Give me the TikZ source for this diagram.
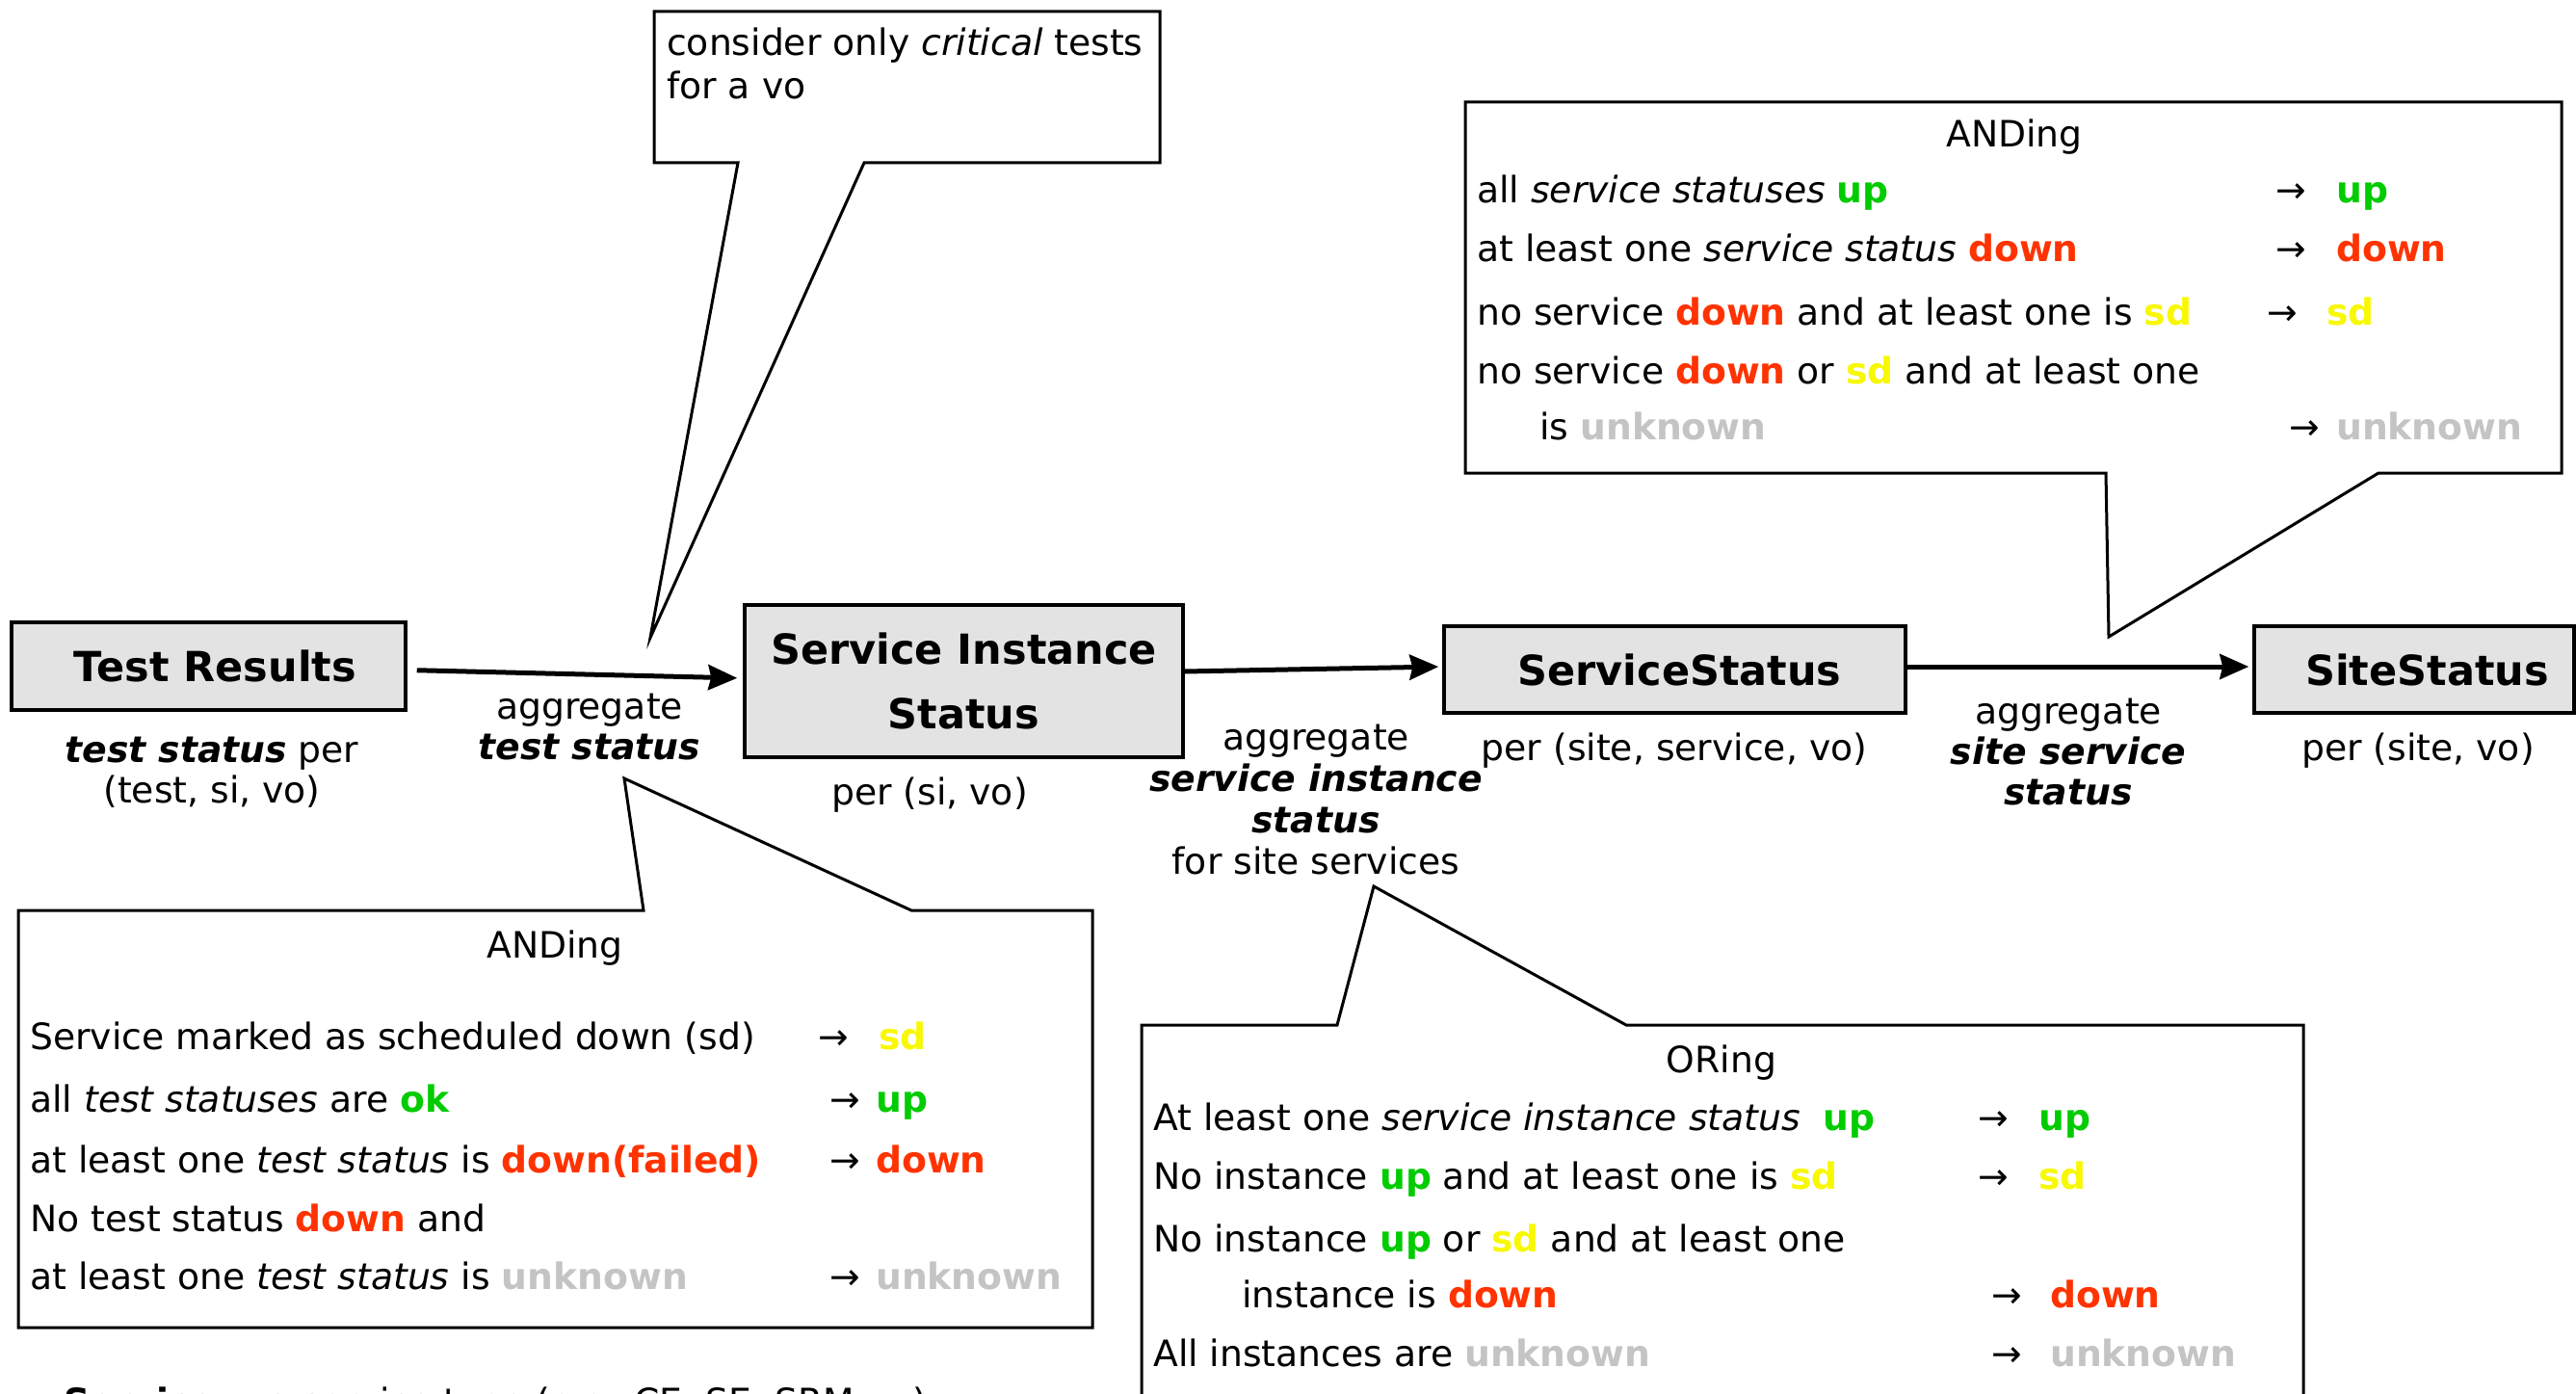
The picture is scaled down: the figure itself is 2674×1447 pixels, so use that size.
\documentclass[tikz,border=0pt]{standalone}
\usepackage{fontspec}
\setmainfont{DejaVu Sans}
\usetikzlibrary{arrows.meta}

\definecolor{stgreen}{HTML}{00CC00}
\definecolor{stred}{HTML}{FF3300}
\definecolor{styellow}{HTML}{F8F800}
\definecolor{stgrey}{HTML}{C4C4C4}
\definecolor{boxgray}{HTML}{E3E3E3}

\newcommand{\stUp}{\textcolor{stgreen}{\textbf{up}}}
\newcommand{\stOk}{\textcolor{stgreen}{\textbf{ok}}}
\newcommand{\stDown}{\textcolor{stred}{\textbf{down}}}
\newcommand{\stSd}{\textcolor{styellow}{\textbf{sd}}}
\newcommand{\stUnk}{\textcolor{stgrey}{\textbf{unknown}}}
\newcommand{\bi}[1]{\textbf{\textit{#1}}}

\tikzset{
  stage/.style={draw, line width=3.5pt, fill=boxgray, inner sep=0pt, align=center,
    font=\fontsize{43}{67}\selectfont\bfseries},
  flow/.style={line width=5pt, -{Stealth[length=30pt,width=26pt,inset=3pt]}},
  bubble/.style={draw, line width=3pt, line join=miter, fill=white},
  rowtxt/.style={anchor=west, inner sep=0pt, text height=28pt, text depth=8pt, yshift=-3pt},
  lbl/.style={align=center, inner sep=0pt},
}

\begin{document}
\begin{tikzpicture}[x=1pt, y=-1pt, font=\fontsize{37.7}{42}\selectfont]
\useasboundingbox (0,0) rectangle (2674,1447);

% ---------------- processing stages ----------------
\node[stage, minimum width=409pt, minimum height=91pt] (tr)   at (216.5,691.5) {\hspace*{14pt}\raisebox{-2pt}{Test Results}};
\node[stage, minimum width=455pt, minimum height=158pt] (sis) at (1000.5,707) {Service Instance\\Status};
\node[stage, minimum width=479pt, minimum height=90pt] (ss)   at (1738.5,695) {\hspace*{10pt}ServiceStatus};
\node[stage, minimum width=332pt, minimum height=90pt] (site) at (2506,695) {\hspace*{27pt}SiteStatus};

% ---------------- aggregation arrows ----------------
\draw[flow, shorten <=10pt, shorten >=6pt] ([yshift=-4pt]tr.east) -- ([yshift=3pt]sis.west);
\draw[flow, shorten >=4pt] ([yshift=10pt]sis.east) -- ([yshift=3pt]ss.west);
\draw[flow, shorten >=4pt] ([yshift=3pt]ss.east) -- ([yshift=3pt]site.west);

% ---------------- labels under the stages ----------------
\node[lbl] (trper) at (220,802) {\bi{test status} per\\(test, si, vo)};
\node[lbl] (agg1) at (612,755) {aggregate\\\bi{test status}};
\node[lbl] (sisper) at (965,825) {per (si, vo)};
\node[lbl, font=\fontsize{37.7}{43}\selectfont] (agg2) at (1366,830) {aggregate\\\bi{service instance}\\\bi{status}\\for site services};
\node[lbl] (ssper) at (1738,779) {per (site, service, vo)};
\node[lbl] (agg3) at (2147,781) {aggregate\\\bi{site service}\\\bi{status}};
\node[lbl] (siteper) at (2510,779) {per (site, vo)};

% ---------------- callout: critical tests ----------------
\coordinate (c1tip) at (675,662);
\draw[bubble] (766,169) -- (679,169) -- (679,12) -- (1204,12) -- (1204,169) -- (897,169) -- (c1tip) -- cycle;
\node[anchor=north west, align=left, inner sep=0pt, font=\fontsize{37.7}{45}\selectfont] (crit) at (692,29)
  {consider only \textit{critical} tests\\for a vo};

% ---------------- callout: ANDing of service statuses ----------------
\coordinate (c2tip) at (2189,661);
\draw[bubble] (2186,491) -- (1521,491) -- (1521,106) -- (2659,106) -- (2659,491) -- (2469,491) -- (c2tip) -- cycle;
\node[rowtxt, anchor=center] (and2) at (2091,140) {ANDing};
\node[rowtxt] (a2r1) at (1533,198) {all \textit{service statuses} \stUp};
\node[rowtxt] (a2r1a) at (2362,198) {→};
\node[rowtxt] (a2r1b) at (2425,198) {\stUp};
\node[rowtxt] (a2r2) at (1533,259) {at least one \textit{service status} \stDown};
\node[rowtxt] (a2r2a) at (2362,259) {→};
\node[rowtxt] (a2r2b) at (2425,259) {\stDown};
\node[rowtxt] (a2r3) at (1533,324) {no service \stDown{} and at least one is \stSd};
\node[rowtxt] (a2r3a) at (2353,324) {→};
\node[rowtxt] (a2r3b) at (2415,324) {\stSd};
\node[rowtxt] (a2r4) at (1533,385) {no service \stDown{} or \stSd{} and at least one};
\node[rowtxt] (a2r5) at (1598,443) {is \stUnk};
\node[rowtxt] (a2r5a) at (2376,443) {→};
\node[rowtxt] (a2r5b) at (2425,443) {\stUnk};

% ---------------- callout: ANDing of test statuses ----------------
\coordinate (c3tip) at (648,808);
\draw[bubble] (668,945) -- (19,945) -- (19,1378) -- (1134,1378) -- (1134,945) -- (946,945) -- (c3tip) -- cycle;
\node[rowtxt, anchor=center] (and1) at (576,981) {ANDing};
\node[rowtxt] (a1r1) at (31,1076) {Service marked as scheduled down (sd)};
\node[rowtxt] (a1r1a) at (849,1076) {→};
\node[rowtxt] (a1r1b) at (912,1076) {\stSd};
\node[rowtxt] (a1r2) at (31,1141) {all \textit{test statuses} are \stOk};
\node[rowtxt] (a1r2a) at (861,1141) {→};
\node[rowtxt] (a1r2b) at (909,1141) {\stUp};
\node[rowtxt] (a1r3) at (31,1204) {at least one \textit{test status} is \textcolor{stred}{\textbf{down(failed)}}};
\node[rowtxt] (a1r3a) at (861,1204) {→};
\node[rowtxt] (a1r3b) at (909,1204) {\stDown};
\node[rowtxt] (a1r4) at (31,1265) {No test status \stDown{} and};
\node[rowtxt] (a1r5) at (31,1325) {at least one \textit{test status} is \stUnk};
\node[rowtxt] (a1r5a) at (861,1325) {→};
\node[rowtxt] (a1r5b) at (909,1325) {\stUnk};

% ---------------- callout: ORing of service instances ----------------
\coordinate (c4tip) at (1426,920);
\draw[bubble] (1388,1064) -- (1185,1064) -- (1185,1520) -- (2391,1520) -- (2391,1064) -- (1688,1064) -- (c4tip) -- cycle;
\node[rowtxt, anchor=center] (or1) at (1787,1100) {ORing};
\node[rowtxt] (o1r1) at (1197,1160) {At least one \textit{service instance status}\ \ \stUp};
\node[rowtxt] (o1r1a) at (2053,1160) {→};
\node[rowtxt] (o1r1b) at (2116,1160) {\stUp};
\node[rowtxt] (o1r2) at (1197,1221) {No instance \stUp{} and at least one is \stSd};
\node[rowtxt] (o1r2a) at (2053,1221) {→};
\node[rowtxt] (o1r2b) at (2116,1221) {\stSd};
\node[rowtxt] (o1r3) at (1197,1286) {No instance \stUp{} or \stSd{} and at least one};
\node[rowtxt] (o1r4) at (1289,1344) {instance is \stDown};
\node[rowtxt] (o1r4a) at (2067,1344) {→};
\node[rowtxt] (o1r4b) at (2128,1344) {\stDown};
\node[rowtxt] (o1r5) at (1197,1405) {All instances are \stUnk};
\node[rowtxt] (o1r5a) at (2067,1405) {→};
\node[rowtxt] (o1r5b) at (2128,1405) {\stUnk};

% ---------------- legend line running off the lower edge ----------------
\node[anchor=base west, inner sep=0pt] (legend) at (66,1468)
  {\textbf{Service} = a service type (e.g. CE, SE, SRM, ...)};
\end{tikzpicture}
\end{document}
